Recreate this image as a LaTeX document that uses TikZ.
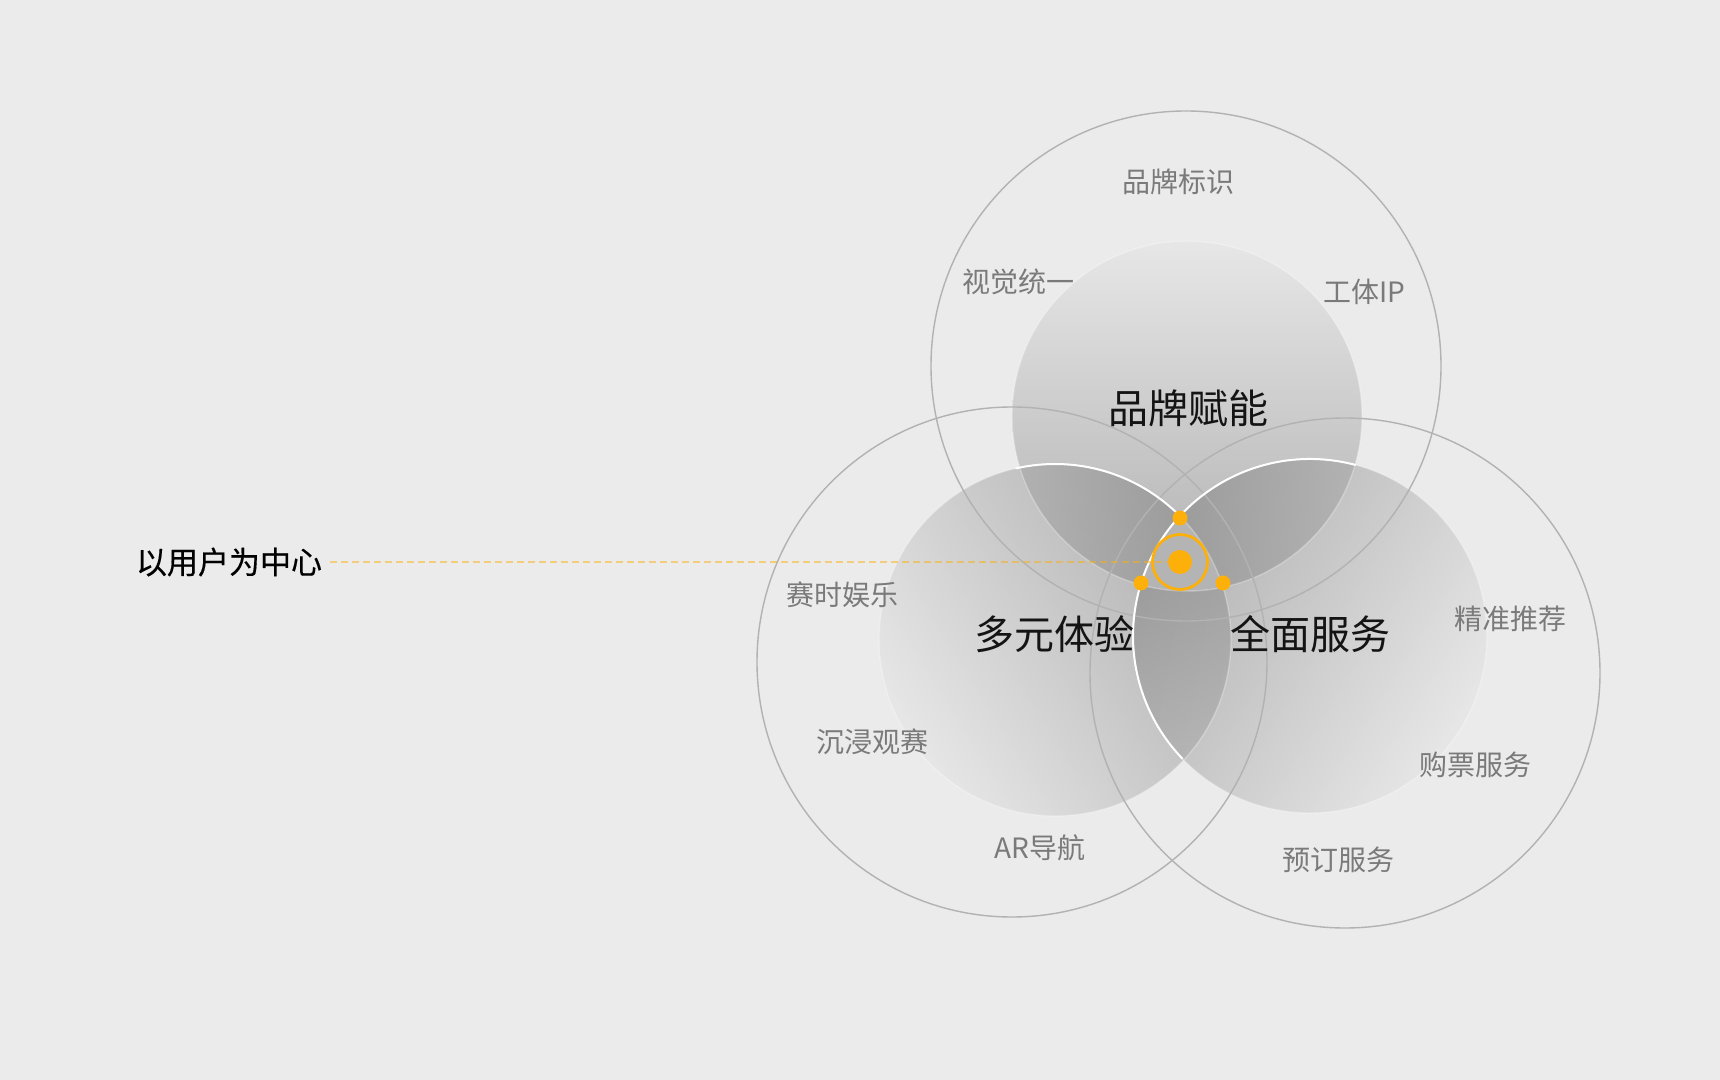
\documentclass[tikz,border=0pt]{standalone}
\usepackage{fontspec}
\setmainfont{Noto Sans CJK SC}
\newfontfamily\userfont[FakeBold=0.4]{Noto Sans CJK SC}
\definecolor{bg}{RGB}{235,235,235}
\definecolor{discLite}{RGB}{228,228,228}
\definecolor{discDark}{RGB}{130,130,130}
\definecolor{tripFill}{RGB}{180,180,180}
\definecolor{accent}{RGB}{253,176,10}
\definecolor{ringLine}{RGB}{178,178,178}
\definecolor{subText}{RGB}{122,122,122}
\begin{document}
\begin{tikzpicture}[x=0.5pt,y=-0.5pt,
  innerdisc/.style={fill opacity=0.55, top color=discLite, bottom color=discDark},
  outerring/.style={draw=ringLine, line width=0.7pt},
  faintedge/.style={draw=white, draw opacity=0.3, line width=0.7pt},
  hilite/.style={draw=white, line width=1pt},
  sublbl/.style={text=subText, font=\fontsize{14pt}{16pt}\selectfont, inner sep=0pt},
  mainlbl/.style={text=black!92, font=\fontsize{20pt}{24pt}\selectfont, inner sep=0pt},
  userlbl/.style={text=black, font=\userfont\fontsize{15.5pt}{18pt}\selectfont, inner sep=0pt},
  dashline/.style={draw=accent, draw opacity=0.5, line width=0.75pt, dash pattern=on 3.5pt off 2pt},
  smalldot/.style={circle, fill=accent, inner sep=0pt, minimum size=7.5pt},
  hubdot/.style={circle, fill=accent, inner sep=0pt, minimum size=12pt},
  hubring/.style={circle, draw=accent, line width=1.4pt, inner sep=0pt, minimum size=27.5pt}
]
% background
\fill[bg] (0,0) rectangle (1720,1080);
\useasboundingbox (0,0) rectangle (1720,1080);

% centres
\coordinate (T) at (1187,416);
\coordinate (L) at (1055,640);
\coordinate (R) at (1310,636);
\coordinate (OT) at (1186,366);
\coordinate (OL) at (1012,662);
\coordinate (OR) at (1345,673);

% shaded inner discs
\shade[innerdisc] (T) circle[radius=175];
\shade[innerdisc, shading angle=122] (L) circle[radius=176];
\shade[innerdisc, shading angle=-122] (R) circle[radius=177];

% lighter triple overlap
\begin{scope}
  \clip (T) circle[radius=175];
  \clip (L) circle[radius=176];
  \fill[tripFill] (R) circle[radius=177];
\end{scope}

% faint rims
\draw[faintedge] (T) circle[radius=175];
\draw[faintedge] (L) circle[radius=176];
\draw[faintedge] (R) circle[radius=177];

% outer rings
\draw[outerring] (OT) circle[radius=255];
\draw[outerring] (OL) circle[radius=255];
\draw[outerring] (OR) circle[radius=255];

% white highlight arcs
\draw[hilite] (L) ++(-103:176) arc[start angle=-103, end angle=-44, radius=176];
\draw[hilite] (R) ++(-75:177) arc[start angle=-75, end angle=-224, radius=177];

% user label and dashed connector
\node[userlbl] (user) at (229,562) {以用户为中心};
\node[hubdot] (hub) at (1180,562) {};
\draw[dashline, shorten <=4pt] (user.east) -- (hub.west);
\node[hubring] (ring) at (1180,562) {};
\node[smalldot] (dtop) at (1180,518) {};
\node[smalldot] (dleft) at (1141,583) {};
\node[smalldot] (dright) at (1223,583) {};

% main labels
\node[mainlbl] (brand) at (1188,408) {品牌赋能};
\node[mainlbl] (exper) at (1054,634) {多元体验};
\node[mainlbl] (serv) at (1310,634) {全面服务};

% sub labels
\node[sublbl] (s1) at (1178,182) {品牌标识};
\node[sublbl] (s2) at (1018,282) {视觉统一};
\node[sublbl] (s3) at (1364,292) {工体IP};
\node[sublbl] (s4) at (842,595) {赛时娱乐};
\node[sublbl] (s5) at (872,742) {沉浸观赛};
\node[sublbl] (s6) at (1040,848) {AR导航};
\node[sublbl] (s7) at (1510,619) {精准推荐};
\node[sublbl] (s8) at (1475,765) {购票服务};
\node[sublbl] (s9) at (1338,860) {预订服务};
\end{tikzpicture}
\end{document}
